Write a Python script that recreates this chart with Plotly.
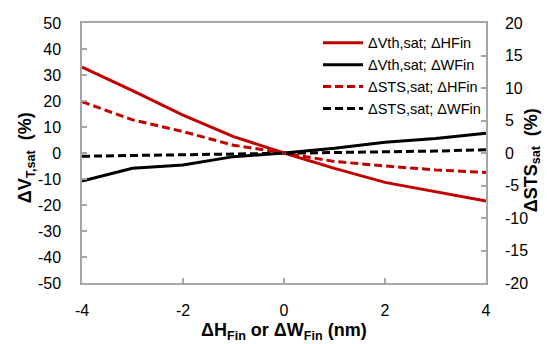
import plotly.graph_objects as go

x_nm = [-4, -3, -2, -1, 0, 1, 2, 3, 4]
vth_hfin = [33, 24, 14.6, 6.3, 0, -5.9, -11.3, -15, -18.5]
vth_wfin = [-10.8, -5.9, -4.6, -1.4, 0, 1.8, 4.1, 5.6, 7.6]
sts_hfin = [7.9, 5.1, 3.3, 1.2, 0, -1.3, -2.0, -2.6, -3.0]
sts_wfin = [-0.5, -0.4, -0.2, -0.1, 0, 0.1, 0.2, 0.3, 0.5]

names = ["ΔVth,sat; ΔHFin", "ΔVth,sat; ΔWFin", "ΔSTS,sat; ΔHFin", "ΔSTS,sat; ΔWFin"]
left_ticks = list(range(-50, 51, 10))
right_ticks = list(range(-20, 21, 5))
x_ticks = [-4, -2, 0, 2, 4]

RED = "#C00000"
BLK = "#000000"
FRAME = "#a6a6a6"
FONT = "Liberation Sans, Arial, sans-serif"

fig = go.Figure()
fig.add_trace(go.Scatter(x=x_nm, y=vth_hfin, name=names[0], mode="lines",
                         line=dict(color=RED, width=3)))
fig.add_trace(go.Scatter(x=x_nm, y=vth_wfin, name=names[1], mode="lines",
                         line=dict(color=BLK, width=3)))
fig.add_trace(go.Scatter(x=x_nm, y=sts_hfin, name=names[2], mode="lines", yaxis="y2",
                         line=dict(color=RED, width=3, dash="8px,4px")))
fig.add_trace(go.Scatter(x=x_nm, y=sts_wfin, name=names[3], mode="lines", yaxis="y2",
                         line=dict(color=BLK, width=3, dash="8px,4px")))

axis_common = dict(showline=True, linecolor=FRAME, linewidth=1.5, showgrid=False,
                   zeroline=False, ticks="inside", ticklen=5, tickcolor=FRAME,
                   tickwidth=1.5, tickfont=dict(family=FONT, size=16, color="black"))

fig.update_layout(
    width=547, height=344,
    margin=dict(l=82, r=61, t=23, b=61),
    paper_bgcolor="white", plot_bgcolor="white",
    showlegend=True,
    legend=dict(x=1.0, y=0.985, xanchor="right", yanchor="top",
                font=dict(family=FONT, size=14.5, color="black"),
                bgcolor="rgba(0,0,0,0)", tracegroupgap=0, itemwidth=40),
    xaxis=dict(range=[-4, 4], tickvals=x_ticks, ticktext=[str(v) for v in x_ticks],
               mirror=True, ticklabelstandoff=12, **axis_common),
    yaxis=dict(range=[-50, 50], tickvals=left_ticks, ticktext=[str(v) for v in left_ticks],
               ticklabelstandoff=16, **axis_common),
    yaxis2=dict(range=[-20, 20], tickvals=right_ticks, ticktext=[str(v) for v in right_ticks],
                overlaying="y", side="right", ticklabelstandoff=14, **axis_common),
)

fig.add_annotation(xref="paper", yref="paper", x=-0.172, y=0.48,
                   text="<b>ΔV<sub>T,sat</sub>  (%)</b>", textangle=-90, showarrow=False,
                   font=dict(family=FONT, size=18, color="black"))
fig.add_annotation(xref="paper", yref="paper", x=(546 - 82) / 404, y=0.47, xanchor="right",
                   text="<b>ΔSTS<sub>sat</sub>  (%)</b>", textangle=-90, showarrow=False,
                   font=dict(family=FONT, size=18, color="black"))
fig.add_annotation(xref="paper", yref="paper", x=0.5, y=-0.135, yanchor="top",
                   text="<b>ΔH<sub>Fin</sub> or ΔW<sub>Fin</sub> (nm)</b>", showarrow=False,
                   font=dict(family=FONT, size=18, color="black"))

fig.write_html("out.html")
